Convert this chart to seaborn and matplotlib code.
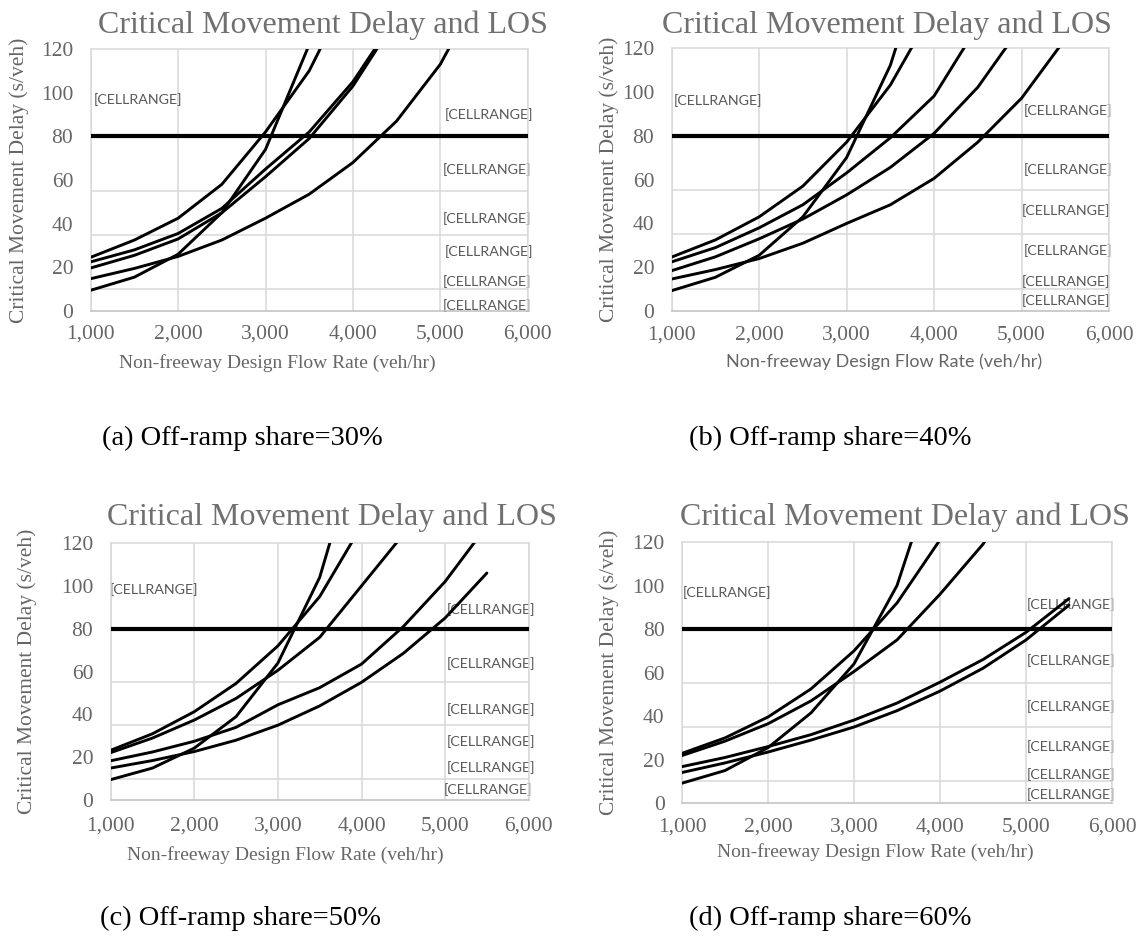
import matplotlib
matplotlib.use("Agg")
import matplotlib.pyplot as plt
import seaborn as sns
import pandas as pd

# ---------------- data ----------------
flow = [1000, 1500, 2000, 2500, 3000, 3500, 4000, 4500, 5000, 5500]
x_ticks = [1000, 2000, 3000, 4000, 5000, 6000]
x_tick_labels = ["1,000", "2,000", "3,000", "4,000", "5,000", "6,000"]
y_ticks = [0, 20, 40, 60, 80, 100, 120]
los_thresholds = [10, 20, 35, 55, 80]
los_f = 80

# panel (a) off-ramp share 30%
a_s1 = [9.5, 15.5, 26, 45, 74, 122]
a_s2 = [24.6, 32.5, 42.5, 58, 82, 110, 150]
a_s3 = [22.5, 28, 35.5, 47, 65, 82, 105, 135]
a_s4 = [19.7, 25.5, 33, 45, 61.5, 79, 103, 134]
a_s5 = [14.8, 19.5, 25, 32.5, 42.5, 53.5, 68, 87, 113, 150]
# panel (b) 40%
b_s1 = [9.4, 15.5, 25.5, 43, 70, 112, 175]
b_s2 = [24.7, 32.5, 43, 57, 77, 103, 138]
b_s3 = [22.5, 29, 38, 48.5, 63, 79, 98, 130]
b_s4 = [18.5, 24.8, 33, 42, 53, 65.5, 81, 102, 130]
b_s5 = [14.7, 19, 24, 31, 40, 48.5, 60.5, 77, 97, 124]
# panel (c) 50%
c_s1 = [9.6, 15, 24.3, 39, 64, 104, 170]
c_s2 = [23.3, 31, 41.3, 54.5, 72, 95, 128]
c_s3 = [22.2, 29, 37.4, 47.5, 60.6, 76, 100, 124]
c_s4 = [18.4, 22.5, 27.5, 34, 44.5, 52.5, 63.5, 81, 102, 128]
c_s5 = [15, 18.5, 22.7, 28, 35, 44, 55, 68.5, 85, 106]
# panel (d) 60%
d_s1 = [9.2, 15, 25.5, 41.5, 64, 100, 160]
d_s2 = [22.9, 30, 39.6, 52.5, 70, 92, 121]
d_s3 = [21.9, 28.5, 36.5, 47, 60.5, 75, 96, 119, 150]
d_s4 = [16.8, 21, 26, 31.5, 38.2, 46, 55.6, 66, 78.5, 94]
d_s5 = [14.1, 18.5, 23.5, 29, 35, 42.5, 51.5, 62, 75, 91]

titles = ["Critical Movement Delay and LOS"] * 4
captions = ["(a) Off-ramp share=30%", "(b) Off-ramp share=40%",
            "(c) Off-ramp share=50%", "(d) Off-ramp share=60%"]
x_label = "Non-freeway Design Flow Rate (veh/hr)"
y_label = "Critical Movement Delay (s/veh)"
cell_text = "[CELLRANGE]"

# label positions (data coords) : left label and right column labels
a_left = (1033, 97)
a_right_x = [5050, 5025, 5025, 5050, 5025, 5025]
a_right_y = [90, 64.8, 42.4, 27.4, 13.7, 2.6]
b_left = (1029, 95.8)
b_right_x = [5026, 5026, 4997, 5026, 4997, 4997]
b_right_y = [91.2, 64.7, 45.9, 27.6, 13.6, 4.8]
c_left = (985, 98.3)
c_right_x = [5024, 5024, 5024, 5024, 5024, 4989]
c_right_y = [88.8, 63.7, 42.4, 27.5, 15.1, 5.0]
d_left = (1008, 96.6)
d_right_x = [5003, 5003, 5003, 5003, 5003, 5003]
d_right_y = [91.1, 65.7, 44.6, 26.2, 13.3, 4.1]

# ---------------- layout ----------------
W, H = 1140, 947
sns.set_theme(style="white")
plt.rcParams["font.family"] = ["Liberation Serif", "DejaVu Serif"]

fig = plt.figure(figsize=(W / 100, H / 100), dpi=100)
fig.patch.set_facecolor("white")

panels = [
    dict(series=[a_s1, a_s2, a_s3, a_s4, a_s5], rect=(90.7, 49, 527.7, 311),
         left=a_left, rx=a_right_x, ry=a_right_y, title_c=(323, 33),
         cap=(242, 438), xlab=(277, 363), ylab_x=19, xfam="Liberation Serif",
         xsize=14, xpad=10),
    dict(series=[b_s1, b_s2, b_s3, b_s4, b_s5], rect=(671.7, 47.7, 1109, 311.3),
         left=b_left, rx=b_right_x, ry=b_right_y, title_c=(887, 33),
         cap=(830, 438), xlab=(884, 362), ylab_x=609, xfam="Lato",
         xsize=13, xpad=10),
    dict(series=[c_s1, c_s2, c_s3, c_s4, c_s5], rect=(110.7, 543, 528.7, 800.2),
         left=c_left, rx=c_right_x, ry=c_right_y, title_c=(332, 525),
         cap=(240, 918), xlab=(285, 855), ylab_x=27, xfam="Liberation Serif",
         xsize=14, xpad=12),
    dict(series=[d_s1, d_s2, d_s3, d_s4, d_s5], rect=(682, 542, 1112, 803.2),
         left=d_left, rx=d_right_x, ry=d_right_y, title_c=(905, 525),
         cap=(830, 918), xlab=(875, 852), ylab_x=609, xfam="Liberation Serif",
         xsize=14, xpad=10),
]

grid_c = "#d9d9d9"
text_c = "#666666"

for p in panels:
    l, t, r, b = p["rect"]
    w, h = r - l, b - t
    ax = fig.add_axes([l / W, 1 - b / H, w / W, h / H])

    rows = []
    for i, vals in enumerate(p["series"]):
        for xv, yv in zip(flow, vals):
            rows.append({"flow": xv, "delay": yv, "series": f"s{i+1}"})
    df = pd.DataFrame(rows)
    sns.lineplot(data=df, x="flow", y="delay", hue="series",
                 palette=["black"] * 5, legend=False, linewidth=2.1,
                 errorbar=None, ax=ax, zorder=3)

    ax.set_xlim(1000, 6000)
    ax.set_ylim(0, 120)
    ax.set_xticks(x_ticks)
    ax.set_xticklabels(x_tick_labels)
    ax.set_yticks(y_ticks)
    ax.set_yticks(los_thresholds, minor=True)
    ax.tick_params(which="both", length=0)
    ax.tick_params(axis="y", labelsize=15.5, colors=text_c, pad=12.5)
    ax.tick_params(axis="x", labelsize=15.5, colors=text_c, pad=p["xpad"])
    ax.grid(False)
    ax.grid(which="major", axis="x", color=grid_c, linewidth=1.1)
    ax.grid(which="minor", axis="y", color=grid_c, linewidth=1.1)
    for s in ax.spines.values():
        s.set_color(grid_c)
        s.set_linewidth(1.1)
    ax.spines["bottom"].set_color("#bfbfbf")

    ax.axhline(los_f, color="black", linewidth=3.0, zorder=4)

    # data labels
    ax.text(p["left"][0], p["left"][1], cell_text, family="Lato", fontsize=10.3,
            color="#595959", ha="left", va="center", zorder=1, clip_on=False)
    for xv, yv in zip(p["rx"], p["ry"]):
        ax.text(xv, yv, cell_text, family="Lato", fontsize=10.3,
                color="#595959", ha="left", va="center", zorder=1, clip_on=False)

    tx, ty = p["title_c"]
    ax.set_title(titles[0], x=(tx - l) / w, y=(b - ty) / h, pad=0,
                 fontsize=23, color="#707070", va="baseline", ha="center",
                 family="Liberation Serif")

    xl, yl = p["xlab"]
    ax.set_xlabel(x_label, fontsize=p["xsize"], color=text_c, va="center",
                  family=p["xfam"])
    ax.xaxis.set_label_coords((xl - l) / w, (b - yl) / h)
    ax.set_ylabel(y_label, fontsize=15.5, color=text_c, va="center",
                  family="Liberation Serif")
    ax.yaxis.set_label_coords((p["ylab_x"] - l) / w, 0.5)

for p, cap in zip(panels, captions):
    cx, cy = p["cap"]
    fig.text(cx / W, 1 - cy / H, cap, ha="center", va="center",
             fontsize=20.5, color="black", family="Liberation Serif")

fig.savefig("out.png", dpi=100, facecolor="white")
